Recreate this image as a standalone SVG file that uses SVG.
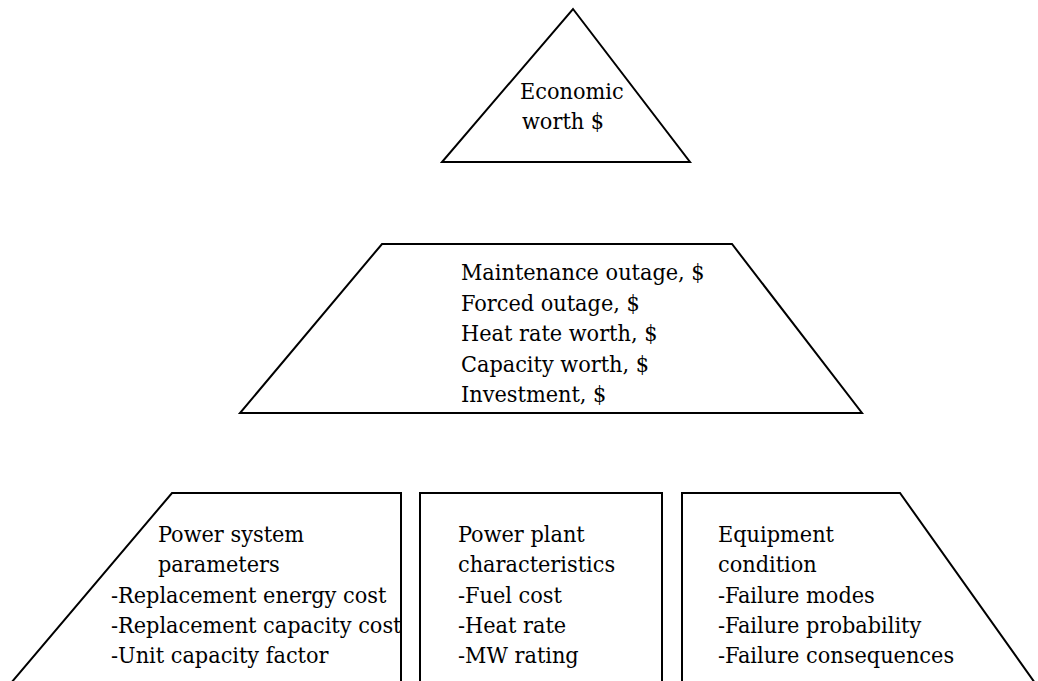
<svg xmlns="http://www.w3.org/2000/svg" width="1038" height="681" viewBox="0 0 1038 681">
<style>
.s{fill:none;stroke:#000;stroke-width:2;stroke-linejoin:miter}
</style>
<rect width="1038" height="681" fill="#fff"/>
<g font-family="'DejaVu Serif Condensed', 'DejaVu Serif', serif" font-size="23.2" fill="#000">
<g id="economic-worth">
<polygon class="s" points="573,9 690,162 442,162"/>
<text x="520" y="99">Economic</text>
<text x="522" y="129">worth $</text>
</g>
<g id="worth-components">
<polygon class="s" points="382,244 732,244 862,413 240,413"/>
<text x="461" y="280">Maintenance outage, $</text>
<text x="461" y="310.5">Forced outage, $</text>
<text x="461" y="341">Heat rate worth, $</text>
<text x="461" y="371.5">Capacity worth, $</text>
<text x="461" y="402">Investment, $</text>
</g>
<g id="power-system">
<polyline class="s" points="11,683 172,493 401,493 401,683"/>
<text x="158" y="542">Power system</text>
<text x="158" y="572">parameters</text>
<text x="111" y="603">-Replacement energy cost</text>
<text x="111" y="633">-Replacement capacity cost</text>
<text x="111" y="663">-Unit capacity factor</text>
</g>
<g id="power-plant">
<polyline class="s" points="420,683 420,493 662,493 662,683"/>
<text x="458" y="542">Power plant</text>
<text x="458" y="572">characteristics</text>
<text x="458" y="603">-Fuel cost</text>
<text x="458" y="633">-Heat rate</text>
<text x="458" y="663">-MW rating</text>
</g>
<g id="equipment">
<polyline class="s" points="682,683 682,493 900,493 1035,683"/>
<text x="718" y="542">Equipment</text>
<text x="718" y="572">condition</text>
<text x="718" y="603">-Failure modes</text>
<text x="718" y="633">-Failure probability</text>
<text x="718" y="663">-Failure consequences</text>
</g>
</g>
<g id="connectors"></g>
</svg>
